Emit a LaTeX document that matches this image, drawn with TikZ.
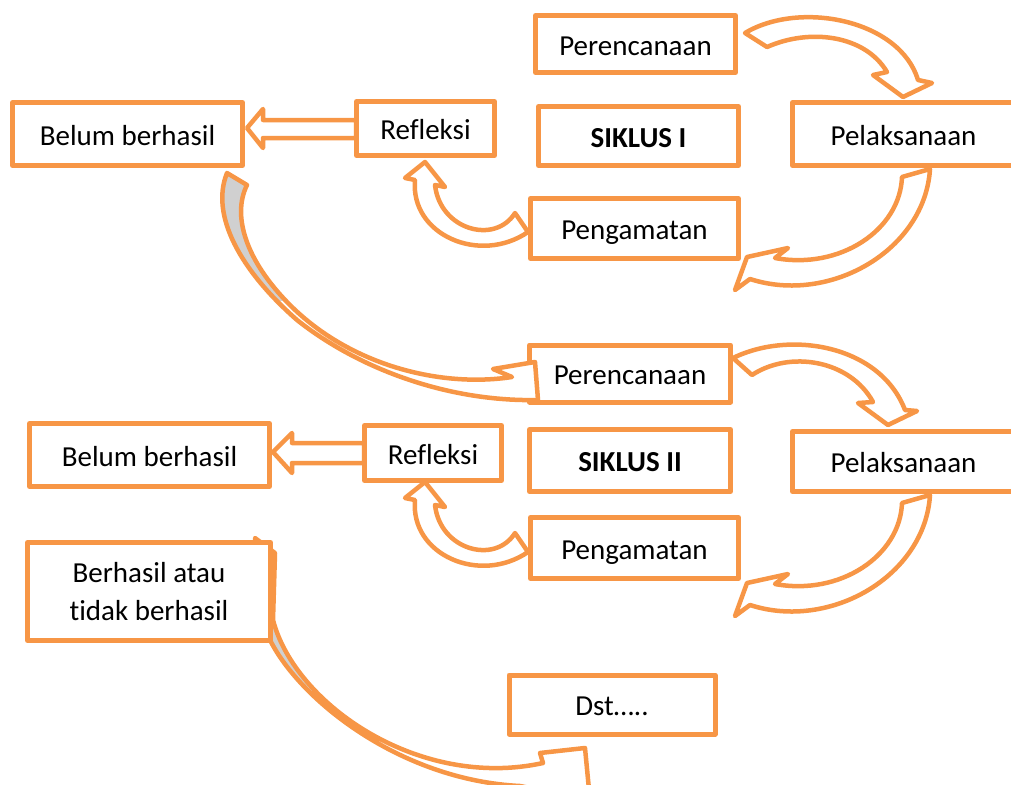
\documentclass[tikz,border=0pt]{standalone}
\usepackage{fontspec}
\setmainfont{Carlito}[Ligatures=NoCommon]
\definecolor{org}{RGB}{247,150,70}
\definecolor{sliver}{RGB}{208,208,208}
\tikzset{
  boxbase/.style={draw=org, line width=5pt, fill=white, inner sep=0pt, line join=round,
    font=\fontsize{29}{38}\selectfont, align=center},
  box/.style={boxbase, text height=23.5pt, text depth=1pt},
  barrow/.style={draw=org, fill=white, line width=4.5pt, line join=round},
  outl/.style={draw=org, line width=4.5pt, line join=round},
}
\begin{document}
\begin{tikzpicture}[x=1pt,y=-1pt]
\useasboundingbox (0,0) rectangle (1011,784);
\clip (0,0) rectangle (1011,784);

% ---- cycle I curved arrows
\draw[barrow] (745,33) .. controls (800,0) and (900,20) .. (918,80) -- (932,83) -- (903,97) -- (873,75) -- (887,72) .. controls (865,35) and (810,28) .. (767,47) -- cycle;
\draw[barrow] (930,169) .. controls (925,250) and (830,305) .. (750,279) -- (735,290) -- (747,257) -- (788,248) -- (775,258) .. controls (840,270) and (900,230) .. (902,177) -- cycle;
\draw[barrow] (528,232) .. controls (480,265) and (410,235) .. (415,180) -- (405,178) -- (425,162) -- (445,187) -- (435,185) .. controls (440,230) and (495,245) .. (515,213) -- cycle;
\draw[barrow] (356,120) -- (263,120) -- (263,109) -- (247,128) -- (263,148) -- (263,138) -- (356,138) -- cycle;

% ---- cycle II curved arrows
\draw[barrow] (733,358) .. controls (790,330) and (880,345) .. (905,410) -- (917,411) -- (888,425) -- (858,403) -- (873,402) .. controls (850,360) and (790,350) .. (752,375) -- cycle;
\begin{scope}[shift={(0,326)}]
\draw[barrow] (930,169) .. controls (925,250) and (830,305) .. (750,279) -- (735,290) -- (747,257) -- (788,248) -- (775,258) .. controls (840,270) and (900,230) .. (902,177) -- cycle;
\end{scope}
\begin{scope}[shift={(0,320)}]
\draw[barrow] (528,232) .. controls (480,265) and (410,235) .. (415,180) -- (405,178) -- (425,162) -- (445,187) -- (435,185) .. controls (440,230) and (495,245) .. (515,213) -- cycle;
\end{scope}
\draw[barrow] (364,443) -- (292,443) -- (292,433) -- (273,452) -- (292,473) -- (292,463) -- (364,463) -- cycle;

% ---- arrow to Dst (behind the box)
\fill[white] (255,538) -- (275,553) -- (273,620) .. controls (295,705) and (420,790) .. (543,763) -- (540,753) -- (585,748) -- (590,800) -- (520,786) .. controls (400,780) and (300,700) .. (270,640) -- cycle;
\begin{scope}
\clip (200,600) rectangle (330,695);
\fill[sliver] (273,620) .. controls (295,705) and (420,790) .. (543,763) -- (520,786) .. controls (400,780) and (300,700) .. (270,640) -- cycle;
\end{scope}
\draw[outl] (255,538) -- (275,553) -- (273,620) .. controls (295,705) and (420,790) .. (543,763) -- (540,753) -- (585,748) -- (590,800) -- (520,786) .. controls (400,780) and (300,700) .. (270,640) -- cycle;

% ---- boxes
\node[box, minimum width=200pt, minimum height=57pt] (per1) at (635.5,44) {Perencanaan};
\node[box, minimum width=230pt, minimum height=63pt] (bel1) at (127.5,134) {Belum berhasil};
\node[box, minimum width=138pt, minimum height=54pt] (ref1) at (425.5,128.5) {Refleksi};
\node[box, minimum width=200pt, minimum height=59pt] (sik1) at (638.5,136) {\bfseries SIKLUS I};
\node[box, minimum width=222pt, minimum height=63pt] (pel1) at (903.5,134) {Pelaksanaan};
\node[box, minimum width=208pt, minimum height=60pt] (pen1) at (634.5,228.5) {Pengamatan};

\node[box, minimum width=201pt, minimum height=57pt] (per2) at (630,373.5) {Perencanaan};
\node[box, minimum width=240pt, minimum height=63pt] (bel2) at (149.5,455) {Belum berhasil};
\node[box, minimum width=137pt, minimum height=55pt] (ref2) at (433,453) {Refleksi};
\node[box, minimum width=201pt, minimum height=62pt] (sik2) at (630,460.5) {\bfseries SIKLUS II};
\node[box, minimum width=222pt, minimum height=60pt] (pel2) at (903.5,461.5) {Pelaksanaan};
\node[box, minimum width=208pt, minimum height=61pt] (pen2) at (634.5,548) {Pengamatan};

\node[boxbase, minimum width=243pt, minimum height=98pt] (ber) at (149,591.5) {Berhasil atau\\tidak berhasil};
\node[box, minimum width=206pt, minimum height=59pt] (dst) at (612,704.5) {Dst\ldots..};

% ---- big twisted arrow from Belum berhasil (I) to Perencanaan (II), on top
\fill[white] (227,173) -- (247,185) .. controls (232,215) and (245,260) .. (290,305) .. controls (350,365) and (440,388) .. (512,377) -- (493,369) -- (535,362) -- (538,400) .. controls (450,402) and (360,370) .. (297,320) .. controls (240,270) and (210,215) .. (227,173) -- cycle;
\begin{scope}
\clip (150,150) rectangle (300,300);
\fill[sliver] (227,173) -- (247,185) .. controls (232,215) and (245,260) .. (290,305) -- (297,320) .. controls (240,270) and (210,215) .. (227,173) -- cycle;
\end{scope}
\draw[outl] (227,173) -- (247,185) .. controls (232,215) and (245,260) .. (290,305) .. controls (350,365) and (440,388) .. (512,377) -- (493,369) -- (535,362) -- (538,400) .. controls (450,402) and (360,370) .. (297,320) .. controls (240,270) and (210,215) .. (227,173) -- cycle;
\end{tikzpicture}
\end{document}
